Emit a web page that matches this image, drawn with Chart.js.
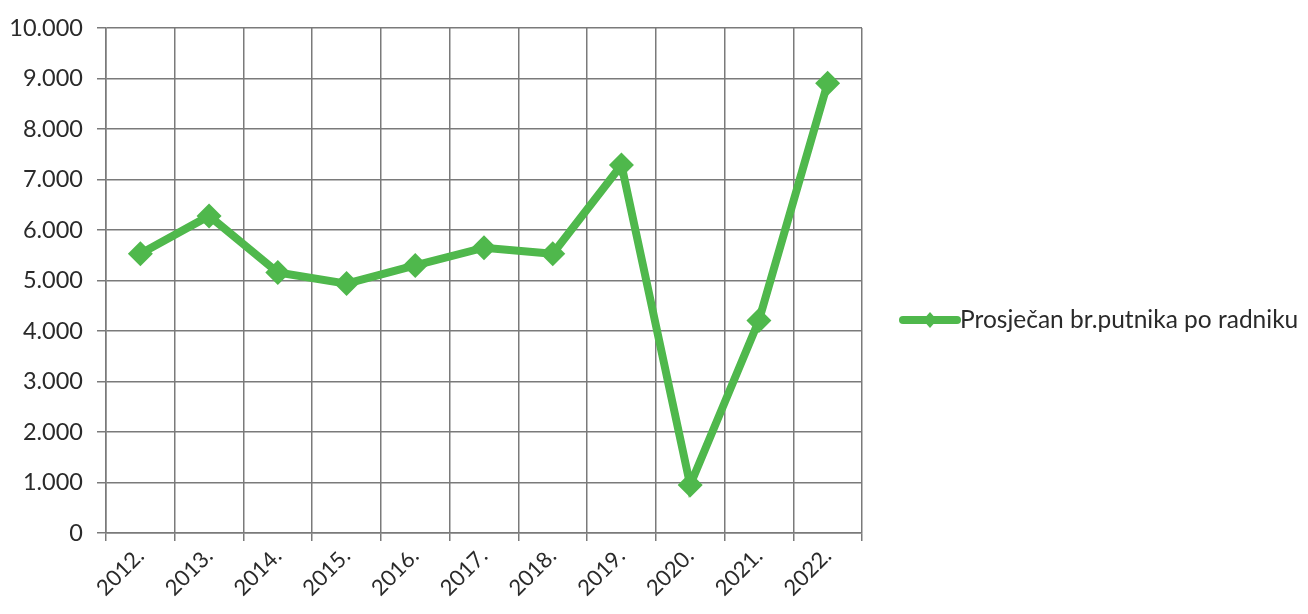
<!DOCTYPE html>
<html>
<head>
<meta charset="utf-8">
<script src="https://cdn.jsdelivr.net/npm/chart.js@4"></script>
<style>
  html, body { margin: 0; padding: 0; background: #fff; }
  #wrap { width: 1308px; height: 614px; }
</style>
</head>
<body>
<div id="wrap"><canvas id="myChart" width="1308" height="614"></canvas></div>
<script>
// chart data
const years = ['2012.', '2013.', '2014.', '2015.', '2016.', '2017.', '2018.', '2019.', '2020.', '2021.', '2022.'];
const passengersPerWorker = [5530, 6280, 5160, 4940, 5300, 5650, 5530, 7290, 950, 4210, 8910];
const seriesLabel = 'Prosječan br.putnika po radniku';
const yTicks = [0, 1000, 2000, 3000, 4000, 5000, 6000, 7000, 8000, 9000, 10000];

const green = '#4fb84c';
const gridColor = '#7a7a7a';
const fontFamily = 'Lato, "Open Sans", sans-serif';

// legend drawn by hand so it sits where the original one is
const sideLegend = {
    id: 'sideLegend',
    afterDraw(chart) {
        const ctx = chart.ctx;
        const ds = chart.data.datasets[0];
        const y = 320;
        ctx.save();
        ctx.strokeStyle = ds.borderColor;
        ctx.lineWidth = 8;
        ctx.lineCap = 'round';
        ctx.beginPath();
        ctx.moveTo(903, y);
        ctx.lineTo(957, y);
        ctx.stroke();
        ctx.fillStyle = ds.backgroundColor;
        ctx.beginPath();
        ctx.moveTo(930, y - 8);
        ctx.lineTo(937, y);
        ctx.lineTo(930, y + 8);
        ctx.lineTo(923, y);
        ctx.closePath();
        ctx.fill();
        ctx.fillStyle = '#2a2a2a';
        ctx.font = '24.5px ' + fontFamily;
        ctx.textBaseline = 'middle';
        ctx.fillText(ds.label, 960, y);
        ctx.restore();
    }
};

const config = {
    type: 'line',
    data: {
        labels: years,
        datasets: [{
            label: seriesLabel,
            data: passengersPerWorker,
            borderColor: green,
            backgroundColor: green,
            borderWidth: 8,
            pointStyle: 'rectRot',
            pointRadius: 12.5,
            pointHoverRadius: 12.5,
            pointBorderWidth: 0,
            tension: 0
        }]
    },
    options: {
        responsive: false,
        animation: false,
        layout: { padding: { top: 27, right: 446, left: 0, bottom: 0 } },
        plugins: {
            legend: { display: false },
            tooltip: { enabled: false }
        },
        scales: {
            x: {
                offset: true,
                grid: { offset: true, color: gridColor, lineWidth: 1.5, tickLength: 8 },
                border: { color: gridColor, width: 1.5 },
                ticks: {
                    color: '#2a2a2a',
                    font: { family: fontFamily, size: 22 },
                    maxRotation: 45,
                    minRotation: 45,
                    padding: 2
                },
                afterFit(scale) { scale.height = 81; }
            },
            y: {
                min: 0,
                max: 10000,
                afterBuildTicks(scale) { scale.ticks = yTicks.map(v => ({ value: v })); },
                grid: { color: gridColor, lineWidth: 1.5, tickLength: 9 },
                border: { color: gridColor, width: 1.5 },
                ticks: {
                    color: '#2a2a2a',
                    font: { family: fontFamily, size: 23.5 },
                    padding: 14,
                    callback: v => v === 0 ? '0' : (v / 1000).toFixed(3)
                },
                afterFit(scale) { scale.width = 106; }
            }
        }
    },
    plugins: [sideLegend]
};

const myChart = new Chart(document.getElementById('myChart'), config);
</script>
</body>
</html>
